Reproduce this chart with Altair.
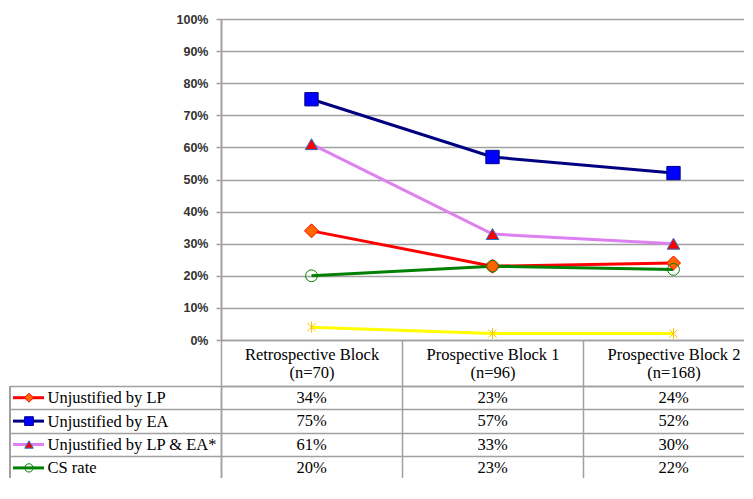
import altair as alt
import pandas as pd

categories = ["Retrospective Block", "Prospective Block 1", "Prospective Block 2"]
n_values = [70, 96, 168]
series = ["Unjustified by LP", "Unjustified by EA", "Unjustified by LP & EA*",
          "CS rate", "Vacuum delivery rate"]
unjustified_lp = [34, 23, 24]
unjustified_ea = [75, 57, 52]
unjustified_lp_ea = [61, 33, 30]
cs_rate = [20, 23, 22]
vacuum_rate = [4, 2, 2]
y_ticks = [0, 10, 20, 30, 40, 50, 60, 70, 80, 90, 100]

line_colors = ["#ff0000", "#000080", "#dd80f2", "#008000", "#ffff00"]
fill_colors = ["#ff6600", "#0000ff", "#ff0000", "transparent", "transparent"]
stroke_colors = ["#ff0000", "#00008b", "#1f74c4", "#008000", "#ffc000"]
ASTERISK = "M0,-1L0,1M-0.75,-0.75L0.75,0.75M-0.75,0.75L0.75,-0.75"
shapes = ["diamond", "square", "triangle-up", "circle", ASTERISK]
plot_sizes = [196, 121, 300, 240, 200]
key_sizes = [81, 64, 100, 81, 100]
stroke_widths = [1, 1, 2, 1.6, 2]

cat_labels = [f"{c}\n(n={n})" for c, n in zip(categories, n_values)]
rows = []
for s, vals in zip(series, [unjustified_lp, unjustified_ea, unjustified_lp_ea, cs_rate, vacuum_rate]):
    for i, (c, v) in enumerate(zip(cat_labels, vals)):
        rows.append({"series": s, "cat": c, "idx": i, "value": v, "label": f"{v}%"})
df = pd.DataFrame(rows)
keys_df = pd.DataFrame({"series": series})

GRID = "#a0a0a0"
SERIF = "Liberation Serif"
W = 543
H_TOP = 321
H_TAB = 117

color_enc = alt.Color("series:N", scale=alt.Scale(domain=series, range=line_colors), legend=None)
shape_enc = alt.Shape("series:N", scale=alt.Scale(domain=series, range=shapes), legend=None)
fill_enc = alt.Fill("series:N", scale=alt.Scale(domain=series, range=fill_colors), legend=None)
stroke_enc = alt.Stroke("series:N", scale=alt.Scale(domain=series, range=stroke_colors), legend=None)
sw_enc = alt.StrokeWidth("series:N", scale=alt.Scale(domain=series, range=stroke_widths), legend=None)

x_top = alt.X("cat:N", sort=cat_labels, scale=alt.Scale(paddingInner=0, paddingOuter=0),
              axis=alt.Axis(title=None, orient="bottom", ticks=False, tickSize=0, labelPadding=6,
                            labelExpr="split(datum.label, '\\n')", labelFont=SERIF, labelFontSize=16.5,
                            labelColor="#000000", labelLineHeight=18.5, labelAngle=0,
                            domainColor=GRID, domainWidth=1.5, grid=False, labelLimit=0))
y_top = alt.Y("value:Q", scale=alt.Scale(domain=[0, 100], nice=False),
              axis=alt.Axis(title=None, values=y_ticks, tickCount=11, labelExpr="datum.value + '%'",
                            labelFont="Liberation Sans", labelFontWeight="bold", labelFontSize=12.5,
                            labelColor="#333333", tickSize=5, tickColor=GRID, tickWidth=1.5,
                            domainColor=GRID, domainWidth=2, grid=True, gridColor=GRID, gridWidth=1.5,
                            labelPadding=8, labelOverlap=False))

lines = alt.Chart(df).mark_line(strokeWidth=3).encode(
    x=x_top, y=y_top, color=color_enc, order=alt.Order("idx:Q"))
points = alt.Chart(df).mark_point(filled=True, opacity=1).encode(
    x=x_top, y=y_top,
    shape=shape_enc, fill=fill_enc, stroke=stroke_enc, strokeWidth=sw_enc,
    size=alt.Size("series:N", scale=alt.Scale(domain=series, range=plot_sizes), legend=None))
top = alt.layer(lines, points).properties(width=W, height=H_TOP)

x_tab = alt.X("cat:N", sort=cat_labels, scale=alt.Scale(paddingInner=0, paddingOuter=0),
              axis=alt.Axis(title=None, orient="top", labels=False, tickSize=46, tickBand="extent",
                            tickColor=GRID, tickWidth=1.5, grid=True, gridColor=GRID, gridWidth=1.5,
                            domainColor=GRID, domainWidth=1.5))
y_tab = alt.Y("series:N", sort=series, scale=alt.Scale(paddingInner=0, paddingOuter=0),
              axis=alt.Axis(title=None, orient="left", tickSize=211, tickBand="extent",
                            tickColor=GRID, tickWidth=1.5, grid=True, gridColor=GRID, gridWidth=1.5,
                            domainColor=GRID, domainWidth=1.5, labelAlign="left", labelPadding=-37,
                            labelFont=SERIF, labelFontSize=16.5, labelColor="#000000",
                            labelBaseline="middle", labelLimit=0))

texts = alt.Chart(df).mark_text(font=SERIF, fontSize=16.5, color="#000000", baseline="middle").encode(
    x=x_tab, y=y_tab, text="label:N")
key_lines = alt.Chart(keys_df).mark_rule(strokeWidth=3).encode(
    x=alt.value(-208), x2=alt.value(-177), y=y_tab, color=color_enc)
key_points = alt.Chart(keys_df).mark_point(filled=True, opacity=1).encode(
    x=alt.value(-192), y=y_tab,
    shape=shape_enc, fill=fill_enc, stroke=stroke_enc, strokeWidth=sw_enc,
    size=alt.Size("series:N", scale=alt.Scale(domain=series, range=key_sizes), legend=None))
border = alt.Chart(keys_df).mark_rule(color=GRID, strokeWidth=1.5).encode(
    x=alt.value(-211), y=alt.value(0), y2=alt.value(H_TAB))
table = alt.layer(texts, key_lines, key_points, border).properties(width=W, height=H_TAB)

chart = alt.vconcat(top, table, spacing=46, bounds="flush").resolve_scale(
    x="independent", y="independent", size="independent"
).properties(
    padding={"left": 0, "top": 4, "right": -22, "bottom": -27}
).configure_view(strokeWidth=0).configure(background="white")

chart.save("out.html", embed_options={"renderer": "svg", "actions": False})
